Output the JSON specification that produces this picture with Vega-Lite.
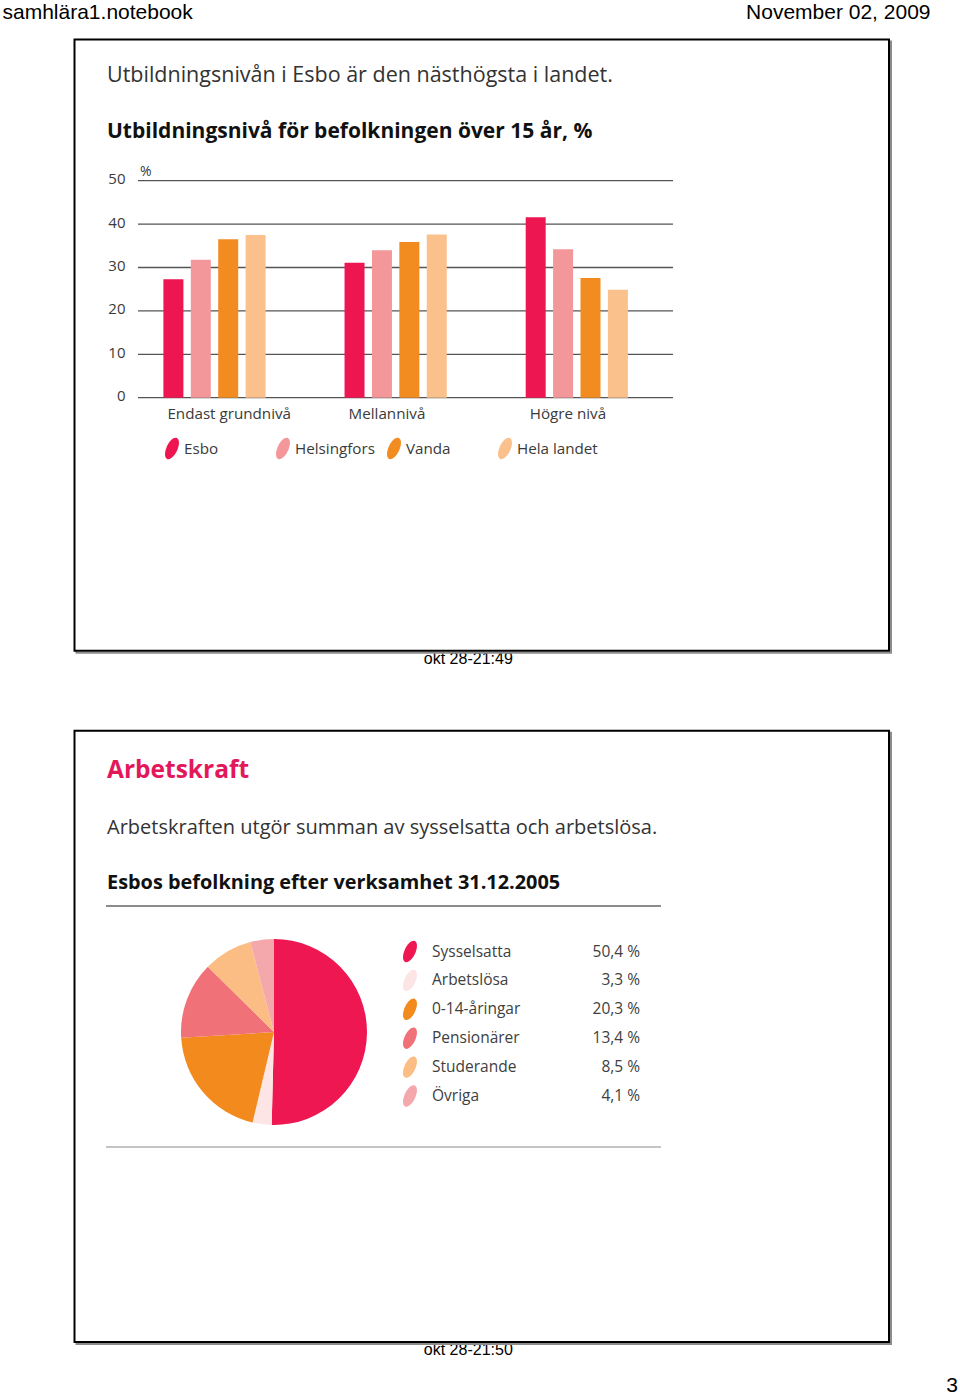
{
  "$schema": "https://vega.github.io/schema/vega-lite/v6.json",
  "width": 960,
  "height": 1394,
  "autosize": {"type": "fit", "contains": "padding"},
  "padding": 0,
  "background": "#ffffff",
  "config": {
    "view": {"stroke": null},
    "locale": {"number": {"decimal": ",", "thousands": " ", "grouping": [3], "currency": ["", " €"], "percent": " %"}}
  },
  "datasets": {
    "education": [
      {"level": "Endast grundnivå", "region": "Esbo", "value": 27.3},
      {"level": "Endast grundnivå", "region": "Helsingfors", "value": 31.8},
      {"level": "Endast grundnivå", "region": "Vanda", "value": 36.5},
      {"level": "Endast grundnivå", "region": "Hela landet", "value": 37.5},
      {"level": "Mellannivå", "region": "Esbo", "value": 31.1},
      {"level": "Mellannivå", "region": "Helsingfors", "value": 34.0},
      {"level": "Mellannivå", "region": "Vanda", "value": 35.9},
      {"level": "Mellannivå", "region": "Hela landet", "value": 37.6},
      {"level": "Högre nivå", "region": "Esbo", "value": 41.6},
      {"level": "Högre nivå", "region": "Helsingfors", "value": 34.2},
      {"level": "Högre nivå", "region": "Vanda", "value": 27.6},
      {"level": "Högre nivå", "region": "Hela landet", "value": 24.9}
    ],
    "gridValues": [{"pct": 0}, {"pct": 10}, {"pct": 20}, {"pct": 30}, {"pct": 40}, {"pct": 50}],
    "workforce": [
      {"group": "Sysselsatta", "share": 0.504},
      {"group": "Arbetslösa", "share": 0.033},
      {"group": "0-14-åringar", "share": 0.203},
      {"group": "Pensionärer", "share": 0.134},
      {"group": "Studerande", "share": 0.085},
      {"group": "Övriga", "share": 0.041}
    ],
    "panels": [
      {"panel": "Utbildningsnivå", "caption": "okt 28-21:49"},
      {"panel": "Arbetskraft", "caption": "okt 28-21:50"}
    ],
    "headlines": [
      {"panel": "Utbildningsnivå", "line": 1, "style": "lead", "text": "Utbildningsnivån i Esbo är den nästhögsta i landet."},
      {"panel": "Utbildningsnivå", "line": 2, "style": "heading", "text": "Utbildningsnivå för befolkningen över 15 år, %"},
      {"panel": "Arbetskraft", "line": 1, "style": "title", "text": "Arbetskraft"},
      {"panel": "Arbetskraft", "line": 2, "style": "lead", "text": "Arbetskraften utgör summan av sysselsatta och arbetslösa."},
      {"panel": "Arbetskraft", "line": 3, "style": "heading", "text": "Esbos befolkning efter verksamhet 31.12.2005"}
    ],
    "dividers": [{"rule": "heading"}, {"rule": "footer"}],
    "page": [
      {"position": "top left", "text": "samhlära1.notebook"},
      {"position": "top right", "text": "November 02, 2009"},
      {"position": "bottom right", "text": "3"}
    ]
  },
  "resolve": {"scale": {"x": "independent", "y": "independent", "color": "independent", "xOffset": "independent", "theta": "independent"}},
  "layer": [
    {
      "data": {"name": "panels"},
      "mark": {"type": "text", "font": "Liberation Sans", "fontSize": 16, "color": "#000000", "align": "center", "baseline": "alphabetic", "dy": 13, "dx": -13.7},
      "encoding": {
        "x": {"datum": 0.5, "type": "quantitative", "scale": {"domain": [0, 1], "range": [75, 889]}, "axis": null},
        "y": {"field": "panel", "type": "nominal", "bandPosition": 1, "scale": {"type": "band", "domain": ["Utbildningsnivå", "Arbetskraft"], "range": [39.5, 1342], "paddingInner": 0.1158, "paddingOuter": 0}, "axis": null},
        "text": {"field": "caption"}
      }
    },
    {
      "data": {"name": "panels"},
      "mark": {"type": "rect", "filled": false, "stroke": "#8c8c8c", "strokeWidth": 2},
      "encoding": {
        "x": {"datum": 0, "type": "quantitative", "scale": {"domain": [0, 1], "range": [76.5, 891]}, "axis": null},
        "x2": {"datum": 1},
        "y": {"field": "panel", "type": "nominal", "scale": {"type": "band", "domain": ["Utbildningsnivå", "Arbetskraft"], "range": [41.5, 1344], "paddingInner": 0.1158, "paddingOuter": 0}, "axis": null}
      }
    },
    {
      "data": {"name": "panels"},
      "mark": {"type": "rect", "fill": "#ffffff", "stroke": "#000000", "strokeWidth": 2},
      "encoding": {
        "x": {"datum": 0, "type": "quantitative", "scale": {"domain": [0, 1], "range": [74.5, 889]}, "axis": null},
        "x2": {"datum": 1},
        "y": {"field": "panel", "type": "nominal", "scale": {"type": "band", "domain": ["Utbildningsnivå", "Arbetskraft"], "range": [39.5, 1342], "paddingInner": 0.1158, "paddingOuter": 0}, "axis": null}
      }
    },
    {
      "data": {"name": "headlines"},
      "transform": [{"filter": "datum.panel == 'Utbildningsnivå' && datum.style == 'lead'"}],
      "mark": {"type": "text", "font": "Open Sans", "fontSize": 21.5, "color": "#333333", "align": "left", "baseline": "alphabetic"},
      "encoding": {
        "x": {"datum": 0, "type": "quantitative", "scale": {"domain": [0, 1], "range": [107, 661]}, "axis": null},
        "y": {"field": "line", "type": "quantitative", "scale": {"domain": [1, 2], "range": [82, 138]}, "axis": null},
        "text": {"field": "text"}
      }
    },
    {
      "data": {"name": "headlines"},
      "transform": [{"filter": "datum.panel == 'Utbildningsnivå' && datum.style == 'heading'"}],
      "mark": {"type": "text", "font": "Open Sans", "fontSize": 21, "fontWeight": "bold", "color": "#111111", "align": "left", "baseline": "alphabetic"},
      "encoding": {
        "x": {"datum": 0, "type": "quantitative", "scale": {"domain": [0, 1], "range": [107, 661]}, "axis": null},
        "y": {"field": "line", "type": "quantitative", "scale": {"domain": [1, 2], "range": [82, 138]}, "axis": null},
        "text": {"field": "text"}
      }
    },
    {
      "data": {"name": "headlines"},
      "transform": [{"filter": "datum.panel == 'Arbetskraft' && datum.style == 'title'"}],
      "mark": {"type": "text", "font": "Open Sans", "fontSize": 24.5, "fontWeight": "bold", "color": "#E2185B", "align": "left", "baseline": "alphabetic"},
      "encoding": {
        "x": {"datum": 0, "type": "quantitative", "scale": {"domain": [0, 1], "range": [107, 661]}, "axis": null},
        "y": {"field": "line", "type": "quantitative", "scale": {"domain": [1, 3], "range": [778, 889]}, "axis": null},
        "text": {"field": "text"}
      }
    },
    {
      "data": {"name": "headlines"},
      "transform": [{"filter": "datum.panel == 'Arbetskraft' && datum.style == 'lead'"}],
      "mark": {"type": "text", "font": "Open Sans", "fontSize": 20, "color": "#333333", "align": "left", "baseline": "alphabetic"},
      "encoding": {
        "x": {"datum": 0, "type": "quantitative", "scale": {"domain": [0, 1], "range": [107, 661]}, "axis": null},
        "y": {"field": "line", "type": "quantitative", "scale": {"domain": [1, 3], "range": [778, 889]}, "axis": null},
        "text": {"field": "text"}
      }
    },
    {
      "data": {"name": "headlines"},
      "transform": [{"filter": "datum.panel == 'Arbetskraft' && datum.style == 'heading'"}],
      "mark": {"type": "text", "font": "Open Sans", "fontSize": 19.9, "fontWeight": "bold", "color": "#111111", "align": "left", "baseline": "alphabetic"},
      "encoding": {
        "x": {"datum": 0, "type": "quantitative", "scale": {"domain": [0, 1], "range": [107, 661]}, "axis": null},
        "y": {"field": "line", "type": "quantitative", "scale": {"domain": [1, 3], "range": [778, 889]}, "axis": null},
        "text": {"field": "text"}
      }
    },
    {
      "data": {"name": "gridValues"},
      "mark": {"type": "rule", "color": "#555555", "strokeWidth": 1.3},
      "encoding": {
        "x": {"datum": 0, "type": "quantitative", "scale": {"domain": [0, 1], "range": [138, 673]}, "axis": null},
        "x2": {"datum": 1},
        "y": {"field": "pct", "type": "quantitative", "scale": {"domain": [0, 50], "range": [397.7, 180.7], "nice": false}, "axis": null}
      }
    },
    {
      "data": {"name": "gridValues"},
      "mark": {"type": "text", "font": "Open Sans", "fontSize": 15, "color": "#3a3a3a", "align": "right", "baseline": "middle", "dx": -12.5, "dy": -1.5},
      "encoding": {
        "x": {"datum": 0, "type": "quantitative", "scale": {"domain": [0, 1], "range": [138, 673]}, "axis": null},
        "y": {"field": "pct", "type": "quantitative", "scale": {"domain": [0, 50], "range": [397.7, 180.7], "nice": false}, "axis": null},
        "text": {"field": "pct", "type": "quantitative"}
      }
    },
    {
      "data": {"values": [{"unit": "%"}]},
      "mark": {"type": "text", "font": "Open Sans", "fontSize": 14, "color": "#3a3a3a", "align": "left", "baseline": "middle", "dx": 2, "dy": -9},
      "encoding": {
        "x": {"datum": 0, "type": "quantitative", "scale": {"domain": [0, 1], "range": [138, 673]}, "axis": null},
        "y": {"datum": 50, "type": "quantitative", "scale": {"domain": [0, 50], "range": [397.7, 180.7], "nice": false}, "axis": null},
        "text": {"field": "unit"}
      }
    },
    {
      "data": {"name": "education"},
      "mark": {"type": "bar"},
      "encoding": {
        "x": {"field": "level", "type": "nominal", "scale": {"type": "band", "domain": ["Endast grundnivå", "Mellannivå", "Högre nivå"], "range": [163.4, 627.9], "paddingInner": 0.4358, "paddingOuter": 0}, "axis": null},
        "xOffset": {"field": "region", "type": "nominal", "scale": {"domain": ["Esbo", "Helsingfors", "Vanda", "Hela landet"], "paddingInner": 0.27, "paddingOuter": 0}},
        "y": {"field": "value", "type": "quantitative", "scale": {"domain": [0, 50], "range": [397.7, 180.7], "nice": false}, "axis": null},
        "color": {"field": "region", "type": "nominal", "scale": {"domain": ["Esbo", "Helsingfors", "Vanda", "Hela landet"], "range": ["#EE1651", "#F4979A", "#F28B20", "#FBC18C"]}, "legend": null}
      }
    },
    {
      "data": {"name": "education"},
      "transform": [{"filter": "datum.region == 'Esbo'"}],
      "mark": {"type": "text", "font": "Open Sans", "fontSize": 15.2, "color": "#3a3a3a", "align": "left", "baseline": "alphabetic", "dx": 4, "dy": 21},
      "encoding": {
        "x": {"field": "level", "type": "nominal", "bandPosition": 0, "scale": {"type": "band", "domain": ["Endast grundnivå", "Mellannivå", "Högre nivå"], "range": [163.4, 627.9], "paddingInner": 0.4358, "paddingOuter": 0}, "axis": null},
        "y": {"datum": 0, "type": "quantitative", "scale": {"domain": [0, 50], "range": [397.7, 180.7], "nice": false}, "axis": null},
        "text": {"field": "level"}
      }
    },
    {
      "data": {"name": "education"},
      "transform": [{"filter": "datum.level == 'Endast grundnivå'"}],
      "mark": {"type": "point", "shape": "M0,-1C0.265,-1,0.48,-0.552,0.48,0C0.48,0.552,0.265,1,0,1C-0.265,1,-0.48,0.552,-0.48,0C-0.48,-0.552,-0.265,-1,0,-1Z", "size": 529, "angle": 25, "filled": true, "opacity": 1, "strokeWidth": 0},
      "encoding": {
        "x": {"field": "region", "type": "nominal", "scale": {"type": "point", "domain": ["Esbo", "Helsingfors", "Vanda", "Hela landet"], "range": [172, 505], "padding": 0}, "axis": null},
        "y": {"datum": 0, "type": "quantitative", "scale": {"domain": [0, 1], "range": [448.5, 470]}, "axis": null},
        "color": {"field": "region", "type": "nominal", "scale": {"domain": ["Esbo", "Helsingfors", "Vanda", "Hela landet"], "range": ["#EE1651", "#F4979A", "#F28B20", "#FBC18C"]}, "legend": null}
      }
    },
    {
      "data": {"name": "education"},
      "transform": [{"filter": "datum.level == 'Endast grundnivå'"}],
      "mark": {"type": "text", "font": "Open Sans", "fontSize": 15.2, "color": "#3a3a3a", "align": "left", "baseline": "middle", "dx": 12},
      "encoding": {
        "x": {"field": "region", "type": "nominal", "scale": {"type": "point", "domain": ["Esbo", "Helsingfors", "Vanda", "Hela landet"], "range": [172, 505], "padding": 0}, "axis": null},
        "y": {"datum": 0, "type": "quantitative", "scale": {"domain": [0, 1], "range": [448.5, 470]}, "axis": null},
        "text": {"field": "region"}
      }
    },
    {
      "data": {"name": "dividers"},
      "mark": {"type": "rule", "strokeWidth": 1.3},
      "encoding": {
        "x": {"datum": 0, "type": "quantitative", "scale": {"domain": [0, 1], "range": [106, 661]}, "axis": null},
        "x2": {"datum": 1},
        "y": {"field": "rule", "type": "nominal", "scale": {"type": "point", "domain": ["heading", "footer"], "range": [906, 1147], "padding": 0}, "axis": null},
        "color": {"field": "rule", "type": "nominal", "scale": {"domain": ["heading", "footer"], "range": ["#666666", "#b0b0b0"]}, "legend": null}
      }
    },
    {
      "data": {"name": "workforce"},
      "transform": [{"window": [{"op": "row_number", "as": "rank"}]}],
      "mark": {"type": "arc", "outerRadius": 93},
      "encoding": {
        "theta": {"field": "share", "type": "quantitative", "stack": true},
        "order": {"field": "rank", "type": "quantitative"},
        "x": {"datum": 0.5, "type": "quantitative", "scale": {"domain": [0, 1], "range": [181, 367]}, "axis": null},
        "y": {"datum": 0.5, "type": "quantitative", "scale": {"domain": [0, 1], "range": [939, 1125]}, "axis": null},
        "color": {"field": "group", "type": "nominal", "scale": {"domain": ["Sysselsatta", "Arbetslösa", "0-14-åringar", "Pensionärer", "Studerande", "Övriga"], "range": ["#EE1751", "#FDE5E5", "#F28A1E", "#F07178", "#FBBD83", "#F5A8AC"]}, "legend": null}
      }
    },
    {
      "data": {"name": "workforce"},
      "mark": {"type": "point", "shape": "M0,-1C0.265,-1,0.48,-0.552,0.48,0C0.48,0.552,0.265,1,0,1C-0.265,1,-0.48,0.552,-0.48,0C-0.48,-0.552,-0.265,-1,0,-1Z", "size": 529, "angle": 25, "filled": true, "opacity": 1, "strokeWidth": 0},
      "encoding": {
        "x": {"datum": 0, "type": "quantitative", "scale": {"domain": [0, 1], "range": [410, 640]}, "axis": null},
        "y": {"field": "group", "type": "nominal", "scale": {"type": "point", "domain": ["Sysselsatta", "Arbetslösa", "0-14-åringar", "Pensionärer", "Studerande", "Övriga"], "range": [951.5, 1096], "padding": 0}, "axis": null},
        "color": {"field": "group", "type": "nominal", "scale": {"domain": ["Sysselsatta", "Arbetslösa", "0-14-åringar", "Pensionärer", "Studerande", "Övriga"], "range": ["#EE1751", "#FDE5E5", "#F28A1E", "#F07178", "#FBBD83", "#F5A8AC"]}, "legend": null}
      }
    },
    {
      "data": {"name": "workforce"},
      "mark": {"type": "text", "font": "Open Sans", "fontSize": 15.5, "color": "#404040", "align": "left", "baseline": "middle", "dx": 22},
      "encoding": {
        "x": {"datum": 0, "type": "quantitative", "scale": {"domain": [0, 1], "range": [410, 640]}, "axis": null},
        "y": {"field": "group", "type": "nominal", "scale": {"type": "point", "domain": ["Sysselsatta", "Arbetslösa", "0-14-åringar", "Pensionärer", "Studerande", "Övriga"], "range": [951.5, 1096], "padding": 0}, "axis": null},
        "text": {"field": "group"}
      }
    },
    {
      "data": {"name": "workforce"},
      "mark": {"type": "text", "font": "Open Sans", "fontSize": 15.5, "color": "#404040", "align": "right", "baseline": "middle"},
      "encoding": {
        "x": {"datum": 1, "type": "quantitative", "scale": {"domain": [0, 1], "range": [410, 640]}, "axis": null},
        "y": {"field": "group", "type": "nominal", "scale": {"type": "point", "domain": ["Sysselsatta", "Arbetslösa", "0-14-åringar", "Pensionärer", "Studerande", "Övriga"], "range": [951.5, 1096], "padding": 0}, "axis": null},
        "text": {"field": "share", "type": "quantitative", "format": ".1%"}
      }
    },
    {
      "data": {"name": "page"},
      "transform": [{"filter": "datum.position == 'top left'"}],
      "mark": {"type": "text", "font": "Liberation Sans", "fontSize": 21, "color": "#000000", "align": "left", "baseline": "alphabetic"},
      "encoding": {
        "x": {"datum": 0, "type": "quantitative", "scale": {"domain": [0, 1], "range": [2.5, 930.5]}, "axis": null},
        "y": {"datum": 0, "type": "quantitative", "scale": {"domain": [0, 1], "range": [19.2, 1391.5]}, "axis": null},
        "text": {"field": "text"}
      }
    },
    {
      "data": {"name": "page"},
      "transform": [{"filter": "datum.position == 'top right'"}],
      "mark": {"type": "text", "font": "Liberation Sans", "fontSize": 21, "color": "#000000", "align": "right", "baseline": "alphabetic"},
      "encoding": {
        "x": {"datum": 1, "type": "quantitative", "scale": {"domain": [0, 1], "range": [2.5, 930.5]}, "axis": null},
        "y": {"datum": 0, "type": "quantitative", "scale": {"domain": [0, 1], "range": [19.2, 1391.5]}, "axis": null},
        "text": {"field": "text"}
      }
    },
    {
      "data": {"name": "page"},
      "transform": [{"filter": "datum.position == 'bottom right'"}],
      "mark": {"type": "text", "font": "Liberation Sans", "fontSize": 21, "color": "#000000", "align": "right", "baseline": "alphabetic"},
      "encoding": {
        "x": {"datum": 1, "type": "quantitative", "scale": {"domain": [0, 1], "range": [2.5, 958]}, "axis": null},
        "y": {"datum": 1, "type": "quantitative", "scale": {"domain": [0, 1], "range": [19.2, 1391.5]}, "axis": null},
        "text": {"field": "text"}
      }
    }
  ]
}
